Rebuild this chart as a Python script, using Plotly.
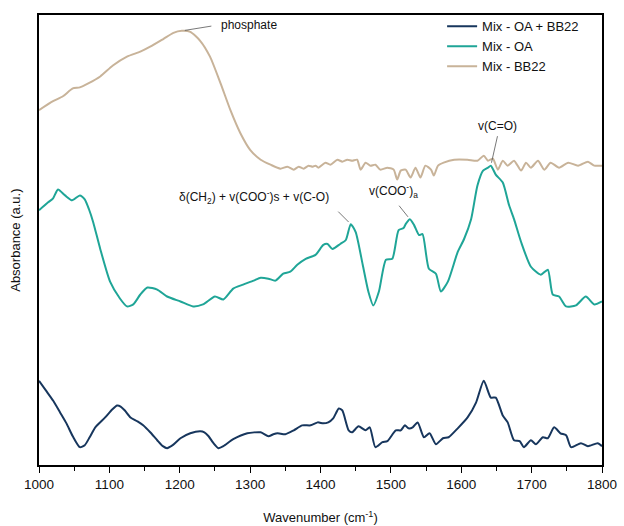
import plotly.graph_objects as go

# FTIR spectra (offset absorbance, arbitrary units) vs wavenumber in cm^-1
wn_mix_oa_bb22 = [1000, 1010, 1020, 1030, 1039, 1048, 1058, 1065, 1072, 1080, 1094, 1104, 1111, 1116,
                  1122, 1130, 1140, 1148, 1158, 1168, 1176, 1182, 1190, 1201, 1215, 1229, 1235, 1241,
                  1248, 1255, 1262, 1276, 1296, 1315, 1326, 1333, 1339, 1350, 1362, 1374, 1386, 1396,
                  1404, 1411, 1418, 1426, 1431, 1440, 1445, 1454, 1464, 1470, 1478, 1488, 1495, 1507,
                  1514, 1520, 1525, 1531, 1538, 1547, 1555, 1564, 1574, 1582, 1595, 1609, 1621, 1632,
                  1642, 1649, 1659, 1666, 1675, 1683, 1689, 1699, 1706, 1716, 1723, 1732, 1741, 1749,
                  1756, 1770, 1780, 1794, 1800]
abs_mix_oa_bb22 = [85, 75, 65, 53, 42, 29, 18, 20, 28, 38, 48, 56, 60, 59,
                   55, 48, 44, 40, 33, 25, 19, 17, 20, 27, 32, 34, 33, 29,
                   22, 17, 19, 26, 32, 33, 29, 31, 32, 31, 35, 40, 40, 43,
                   42, 43, 47, 57, 55, 35, 33, 39, 35, 38, 18, 23, 24, 35,
                   35, 40, 37, 38, 43, 28, 32, 21, 27, 28, 37, 48, 63, 85,
                   68, 68, 50, 43, 25, 24, 18, 25, 21, 28, 27, 38, 32, 30,
                   18, 22, 19, 22, 19]

wn_mix_oa = [1000, 1013, 1020, 1027, 1037, 1047, 1058, 1065, 1071, 1077, 1087, 1101, 1115, 1125,
             1134, 1144, 1154, 1168, 1182, 1201, 1219, 1233, 1250, 1262, 1276, 1290, 1305, 1315,
             1326, 1336, 1347, 1357, 1367, 1379, 1393, 1404, 1410, 1417, 1428, 1436, 1443, 1450,
             1460, 1468, 1475, 1483, 1493, 1502, 1511, 1518, 1521, 1527, 1533, 1540, 1545, 1554,
             1564, 1571, 1581, 1595, 1604, 1614, 1623, 1631, 1638, 1642, 1649, 1659, 1668, 1675,
             1685, 1699, 1713, 1723, 1730, 1739, 1749, 1763, 1777, 1789, 1800]
abs_mix_oa = [257, 265, 269, 278, 272, 267, 272, 268, 258, 245, 218, 185, 168, 160,
              162, 172, 179, 177, 170, 165, 160, 162, 170, 167, 178, 182, 186, 189,
              188, 186, 193, 195, 202, 208, 212, 222, 223, 218, 223, 227, 243, 235,
              202, 175, 161, 175, 207, 208, 237, 239, 243, 248, 242, 232, 233, 198,
              193, 175, 185, 215, 228, 248, 282, 297, 300, 302, 293, 285, 262, 248,
              225, 200, 192, 197, 172, 170, 160, 161, 170, 162, 165]

wn_mix_bb22 = [1000, 1020, 1034, 1048, 1058, 1070, 1087, 1105, 1125, 1144, 1158, 1177, 1191, 1203,
               1215, 1229, 1243, 1258, 1272, 1286, 1300, 1315, 1329, 1343, 1353, 1362, 1369, 1376,
               1383, 1389, 1393, 1397, 1407, 1414, 1424, 1431, 1438, 1445, 1452, 1457, 1464, 1471,
               1478, 1485, 1495, 1504, 1509, 1514, 1521, 1528, 1535, 1542, 1549, 1557, 1561, 1567,
               1575, 1590, 1609, 1623, 1632, 1638, 1645, 1652, 1659, 1666, 1675, 1685, 1692, 1699,
               1709, 1718, 1727, 1739, 1752, 1766, 1780, 1789, 1800]
abs_mix_bb22 = [358, 367, 372, 380, 381, 385, 392, 403, 412, 417, 422, 430, 436, 438,
                437, 428, 412, 385, 358, 335, 318, 308, 303, 299, 301, 298, 301, 299,
                302, 301, 302, 300, 305, 303, 308, 306, 308, 307, 308, 298, 305, 302,
                303, 298, 300, 298, 288, 297, 298, 290, 300, 290, 302, 298, 292, 302,
                305, 308, 308, 307, 312, 307, 309, 298, 307, 302, 307, 297, 305, 300,
                307, 298, 305, 300, 305, 302, 306, 302, 302]

series = [
    ("Mix - OA + BB22", wn_mix_oa_bb22, abs_mix_oa_bb22, "#17365d"),
    ("Mix - OA", wn_mix_oa, abs_mix_oa, "#1fa597"),
    ("Mix - BB22", wn_mix_bb22, abs_mix_bb22, "#c8b399"),
]

FONT = "Liberation Sans, Arial, sans-serif"

fig = go.Figure()
for name, x, y, color in series:
    fig.add_trace(go.Scatter(
        x=x, y=y, mode="lines", name=name,
        line=dict(color=color, width=2, shape="spline", smoothing=0.6),
    ))


def value_at(wn, ab, w):
    return ab[wn.index(w)]


# band assignments: (label, wavenumber of the band, series, leader offset px, label position)
bands = [
    ("phosphate", 1203, (wn_mix_bb22, abs_mix_bb22), (31, -5), (1256, 444, "left")),
    ("δ(CH<sub>2</sub>) + v(COO<sup>-</sup>)s + v(C-O)", 1443, (wn_mix_oa, abs_mix_oa), (-14, -14),
     (1306, 270, "center")),
    ("v(COO<sup>-</sup>)<sub>a</sub>", 1527, (wn_mix_oa, abs_mix_oa), (-12, -15), (1504, 276, "center")),
    ("v(C=O)", 1642, (wn_mix_oa, abs_mix_oa), (7, -31), (1652, 342, "center")),
]

annotations = []
for label, w, (wn, ab), (dx, dy), (tx, ty, anchor) in bands:
    annotations.append(dict(
        x=w, y=value_at(wn, ab, w), xref="x", yref="y", text="",
        showarrow=True, arrowhead=0, arrowwidth=0.8, arrowcolor="#555555",
        ax=dx, ay=dy, standoff=3,
    ))
    annotations.append(dict(
        x=tx, y=ty, xref="x", yref="y", text=label, showarrow=False,
        xanchor=anchor, yanchor="middle", font=dict(family=FONT, size=12, color="#111111"),
    ))

annotations.append(dict(
    x=-0.043, y=0.5, xref="paper", yref="paper", text="Absorbance (a.u.)",
    textangle=-90, showarrow=False, xanchor="center", yanchor="middle",
    font=dict(family=FONT, size=13, color="#111111"),
))

fig.update_layout(
    width=624, height=526,
    margin=dict(l=39, r=22, t=11, b=61),
    paper_bgcolor="white", plot_bgcolor="white",
    font=dict(family=FONT, size=13, color="#111111"),
    showlegend=True,
    legend=dict(x=0.716, y=1.008, xanchor="left", yanchor="top",
                bgcolor="rgba(0,0,0,0)", font=dict(family=FONT, size=13),
                tracegroupgap=0, itemwidth=30),
    annotations=annotations,
    xaxis=dict(
        range=[1000, 1800], tickmode="linear", tick0=1000, dtick=100,
        ticks="outside", ticklen=6, tickwidth=1, tickcolor="black",
        minor=dict(dtick=50, ticks="outside", ticklen=4, tickcolor="black"),
        showline=True, linecolor="black", linewidth=1.5, mirror=True,
        showgrid=False, zeroline=False, automargin=False,
        tickfont=dict(family=FONT, size=13.5),
        title=dict(text="Wavenumber (cm<sup>-1</sup>)", font=dict(family=FONT, size=13), standoff=22),
    ),
    yaxis=dict(
        range=[0, 454], showticklabels=False, ticks="",
        showline=True, linecolor="black", linewidth=1.5, mirror=True,
        showgrid=False, zeroline=False, automargin=False,
    ),
)

fig.write_html("out.html")
